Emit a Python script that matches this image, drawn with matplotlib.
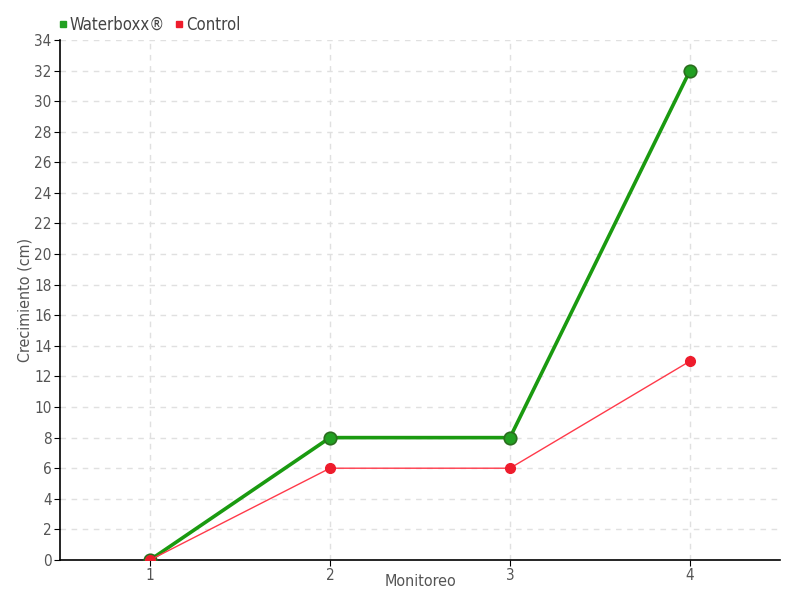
import matplotlib
matplotlib.use("Agg")
import matplotlib.pyplot as plt
from matplotlib.lines import Line2D

plt.rcParams['font.family'] = ['DejaVu Sans']
plt.rcParams['font.stretch'] = 'condensed'

monitoreo = [1, 2, 3, 4]
waterboxx = [0, 8, 8, 32]
control = [0, 6, 6, 13]

fig = plt.figure(figsize=(8, 6), dpi=100)
ax = fig.add_axes([0.075, 0.0667, 0.9, 0.8667])

ax.plot(monitoreo, waterboxx, color='#1a9a10', linewidth=2.6, marker='o',
        markersize=9, markerfacecolor='#22a022', markeredgecolor='#2a6e1e',
        markeredgewidth=1.2, zorder=3)
ax.plot(monitoreo, control, color='#ff3a4a', linewidth=1, marker='o',
        markersize=7, markerfacecolor='#ee1c2c', markeredgecolor='#ee1c2c',
        zorder=4)

ax.set_xlim(0.5, 4.5)
ax.set_ylim(0, 34)
ax.set_xticks(monitoreo)
ax.set_yticks(range(0, 35, 2))
ax.grid(True, color='#e0e0e0', linestyle=(0, (4, 4)), linewidth=1)
ax.set_axisbelow(True)

for s in ['top', 'right']:
    ax.spines[s].set_visible(False)
ax.spines['left'].set_linewidth(1.2)
ax.spines['bottom'].set_linewidth(1.2)
ax.tick_params(axis='both', labelsize=11, labelcolor='#555555', length=4,
               color='black', pad=2)

ax.set_xlabel('Monitoreo', fontsize=11.5, color='#555555')
ax.set_ylabel('Crecimiento (cm)', fontsize=11.5, color='#555555')
ax.xaxis.set_label_coords(0.5, -0.027)
ax.yaxis.set_label_coords(-0.038, 0.5)

handles = [
    Line2D([], [], linestyle='none', marker='s', markersize=5, color='#22a022'),
    Line2D([], [], linestyle='none', marker='s', markersize=5, color='#ee1c2c'),
]
fig.legend(handles, ['Waterboxx®', 'Control'], loc='upper left',
           bbox_to_anchor=(0.053, 0.998), ncol=2, frameon=False,
           fontsize=12, labelcolor='#444444', handletextpad=0.05,
           columnspacing=0.5, handlelength=0.7)

fig.savefig('out.png', dpi=100)
